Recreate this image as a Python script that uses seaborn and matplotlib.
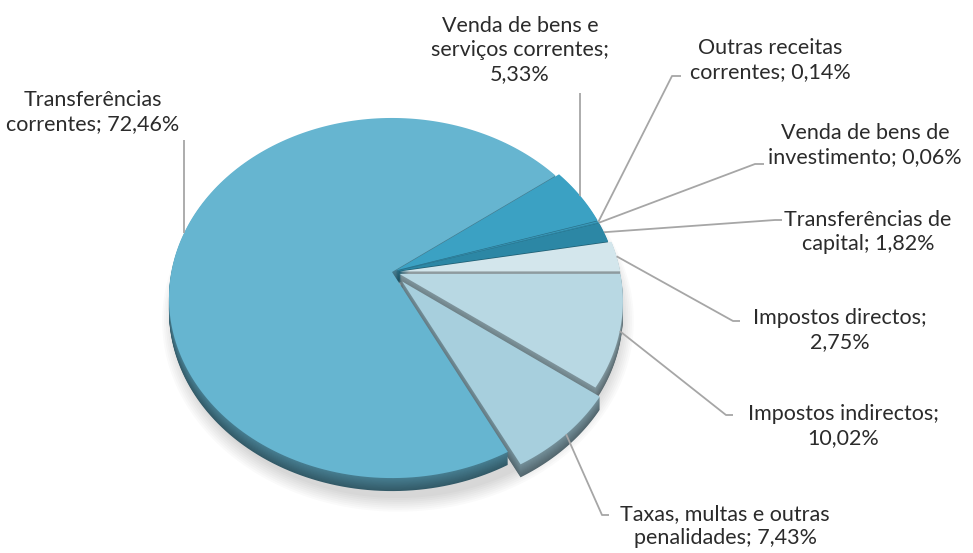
import numpy as np
import matplotlib
matplotlib.use("Agg")
import matplotlib.pyplot as plt
import matplotlib.transforms as mtransforms
from matplotlib.path import Path
import matplotlib.colors as mcolors
import seaborn as sns

# ---------------- data ----------------
categories = [
    "Venda de bens e\nserviços correntes",
    "Outras receitas\ncorrentes",
    "Venda de bens de\ninvestimento",
    "Transferências de\ncapital",
    "Impostos directos",
    "Impostos indirectos",
    "Taxas, multas e outras\npenalidades",
    "Transferências\ncorrentes",
]
values = [5.33, 0.14, 0.06, 1.82, 2.75, 10.02, 7.43, 72.46]
separators = [";\n", "; ", "; ", "; ", ";\n", ";\n", "; ", "; "]
top_colors = ["#3BA1C3", "#3899BA", "#3391B0", "#2C87A5",
              "#D3E6EC", "#B8D8E3", "#A7CFDD", "#66B5D0"]
explode = [0.02, 0.02, 0.02, 0.02, 0.035, 0.035, 0.07, 0.0]

# ---------------- layout ----------------
label_layout = [
    dict(xy=(520, 50), kind="up", end=93),
    dict(xy=(770, 60), kind="right", pts=[(672, 76), (681, 76)]),
    dict(xy=(865, 145), kind="right", pts=[(755, 164), (764, 164)]),
    dict(xy=(868, 232), kind="right", pts=[(775, 220), (782, 220)]),
    dict(xy=(840, 330), kind="right", pts=[(733, 321), (740, 321)]),
    dict(xy=(843, 426), kind="right", pts=[(726, 415), (733, 415)]),
    dict(xy=(725, 526), kind="right", pts=[(602, 515), (609, 515)]),
    dict(xy=(93, 112), kind="up", end=140),
]


class Tilt(mtransforms.Transform):
    """Perspective view of the pie plane (unit circle) into pixel space."""
    input_dims = 2
    output_dims = 2
    is_separable = False
    has_inverse = False

    def __init__(self, cx, cy, W, H, p):
        super().__init__()
        self.cx, self.cy, self.W, self.H, self.p = cx, cy, W, H, p

    def transform_non_affine(self, xy):
        xy = np.asarray(xy, float).reshape(-1, 2)
        u, v = xy[:, 0], xy[:, 1]
        d = 1.0 + self.p * v
        return np.column_stack([self.cx + self.W * u / d,
                                self.cy - self.H * v / d])

    def transform_path_non_affine(self, path):
        verts, codes = [], []
        for seg, code in path.iter_bezier():
            if code == Path.MOVETO:
                verts.append(seg.control_points[0])
                codes.append(Path.MOVETO)
            else:
                t = np.linspace(0, 1, 24)[1:]
                pts = seg(t)
                verts.extend(pts)
                codes.extend([Path.LINETO] * len(pts))
        verts.append(verts[0] if verts else (0, 0))
        codes.append(Path.CLOSEPOLY)
        verts = np.asarray(verts, float)
        return Path(self.transform_non_affine(verts), codes)


sns.set_theme(style="white")
plt.rcParams["font.family"] = ["Lato", "DejaVu Sans"]

fig = plt.figure(figsize=(9.73, 5.53), dpi=100)
ax = fig.add_axes([0, 0, 1, 1])

tilt = Tilt(392, 272, 220.7, 176.3, 0.1445)
START = 36.4
n_layers = 14
thick = 13.0


def darken(c, f):
    r, g, b = mcolors.to_rgb(c)
    return (r * f, g * f, b * f)


# soft drop shadow
for j in range(8):
    sh, _ = ax.pie([sum(values)], radius=1.0 + 0.008 * j, colors=["#000000"],
                   wedgeprops=dict(linewidth=0, alpha=0.018))
    for w in sh:
        w.set_transform(tilt + mtransforms.Affine2D().translate(6, 20) + ax.transData)

# side of the pie (stacked shifted copies)
for k in range(n_layers, 0, -1):
    f = 0.70 - 0.20 * k / n_layers
    cols = [darken(c, f) for c in top_colors]
    wedges, _ = ax.pie(values, startangle=START, counterclock=False,
                       explode=explode, colors=cols, radius=1,
                       wedgeprops=dict(linewidth=0))
    dy = thick * k / n_layers
    for w in wedges:
        w.set_transform(tilt + mtransforms.Affine2D().translate(0, dy) + ax.transData)

# top faces
wedges, _ = ax.pie(values, startangle=START, counterclock=False,
                   explode=explode, colors=top_colors, radius=1,
                   wedgeprops=dict(linewidth=0))
for w in wedges:
    w.set_transform(tilt + ax.transData)

# labels and leader lines
line_col = "#A6A6A6"
for i, w in enumerate(wedges):
    lay = label_layout[i]
    mid = np.deg2rad((w.theta1 + w.theta2) / 2.0)
    cxw, cyw = w.center
    a = tilt.transform_non_affine(np.array([[cxw + np.cos(mid), cyw + np.sin(mid)]]))[0]
    if lay["kind"] == "up":
        xs = [a[0], a[0]]
        ys = [a[1], lay["end"]]
    else:
        xs = [a[0]] + [p[0] for p in lay["pts"]]
        ys = [a[1]] + [p[1] for p in lay["pts"]]
    ax.plot(xs, ys, color=line_col, lw=1.3, solid_capstyle="butt")
    pct = f"{values[i]:.2f}".replace(".", ",") + "%"
    txt = categories[i] + separators[i] + pct
    ax.text(lay["xy"][0], lay["xy"][1], txt, ha="center", va="center",
            fontsize=15.5, color="#2B2B2B", linespacing=1.25)

ax.set_aspect("auto")
ax.set_xlim(0, 973)
ax.set_ylim(553, 0)
ax.axis("off")

fig.savefig("out.png", dpi=100, facecolor="white")
